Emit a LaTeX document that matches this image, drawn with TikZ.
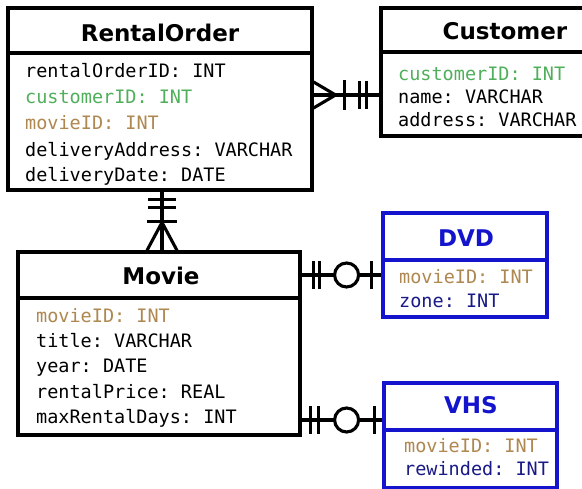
\documentclass[tikz,border=0pt]{standalone}
\usepackage{fontspec}
\setmainfont{DejaVu Sans}
\setmonofont{DejaVu Sans Mono}
\usetikzlibrary{calc}
\definecolor{keygreen}{RGB}{80,175,90}
\definecolor{keytan}{RGB}{175,135,80}
\definecolor{subblue}{RGB}{20,20,205}
\definecolor{subtext}{RGB}{25,25,135}
\tikzset{
  entity/.style={draw=black, line width=3.2pt, fill=white, inner sep=0pt},
  subentity/.style={draw=subblue, line width=3.2pt, fill=white, inner sep=0pt},
  divider/.style={line width=3.2pt},
  subdivider/.style={draw=subblue, line width=3.2pt},
  enttitle/.style={anchor=base, inner sep=0pt, font=\fontsize{23}{26}\selectfont\bfseries},
  attr/.style={anchor=base west, inner sep=0pt, font=\fontsize{18.5}{22}\selectfont\ttfamily},
  conn/.style={line width=3.1pt, line cap=butt},
  ring/.style={line width=3.1pt, fill=white},
}
\begin{document}
\begin{tikzpicture}[x=1pt, y=-1pt]
\useasboundingbox (0,0) rectangle (582,489);
\clip (0,0) rectangle (582,489);

% ---- RentalOrder ----
\node[entity, minimum width=304pt, minimum height=182pt] (ro) at (160,99) {};
\draw[divider] (ro.west |- 0,53) -- (ro.east |- 0,53);
\node[enttitle] (roT) at (160,42) {RentalOrder};
\node[attr] (ro1) at (25,78) {rentalOrderID: INT};
\node[attr, text=keygreen] (ro2) at (25,104) {customerID: INT};
\node[attr, text=keytan] (ro3) at (25,130) {movieID: INT};
\node[attr] (ro4) at (25,157) {deliveryAddress: VARCHAR};
\node[attr] (ro5) at (25,182) {deliveryDate: DATE};

% ---- Customer ----
\node[entity, minimum width=259pt, minimum height=128pt] (cu) at (510.5,72) {};
\draw[divider] (cu.west |- 0,52) -- (cu.east |- 0,52);
\node[enttitle] (cuT) at (505,40) {Customer};
\node[attr, text=keygreen] (cu1) at (398,81) {customerID: INT};
\node[attr] (cu2) at (398,104) {name: VARCHAR};
\node[attr] (cu3) at (398,127) {address: VARCHAR};

% ---- Movie ----
\node[entity, minimum width=282pt, minimum height=183pt] (mv) at (159,343.5) {};
\draw[divider] (mv.west |- 0,298) -- (mv.east |- 0,298);
\node[enttitle] (mvT) at (161,285) {Movie};
\node[attr, text=keytan] (mv1) at (36,323) {movieID: INT};
\node[attr] (mv2) at (36,348) {title: VARCHAR};
\node[attr] (mv3) at (36,373) {year: DATE};
\node[attr] (mv4) at (36,399) {rentalPrice: REAL};
\node[attr] (mv5) at (36,424) {maxRentalDays: INT};

% ---- DVD ----
\node[subentity, minimum width=164pt, minimum height=104pt] (dvd) at (465,265) {};
\draw[subdivider] (dvd.west |- 0,260) -- (dvd.east |- 0,260);
\node[enttitle, text=subblue] (dvdT) at (466,247) {DVD};
\node[attr, text=keytan] (dvd1) at (399,284) {movieID: INT};
\node[attr, text=subtext] (dvd2) at (399,308) {zone: INT};

% ---- VHS ----
\node[subentity, minimum width=173pt, minimum height=105pt] (vhs) at (470.5,435.5) {};
\draw[subdivider] (vhs.west |- 0,430) -- (vhs.east |- 0,430);
\node[enttitle, text=subblue] (vhsT) at (471,414) {VHS};
\node[attr, text=keytan] (vhs1) at (404,453) {movieID: INT};
\node[attr, text=subtext] (vhs2) at (404,476) {rewinded: INT};

% ---- RentalOrder -- Customer: many / exactly one ----
\coordinate (roR) at (ro.east |- 0,95);
\coordinate (cuL) at (cu.west |- 0,95);
\draw[conn] (roR) -- (cuL);
\draw[conn] ($(roR)+(0,-13)$) -- ($(roR)+(22,0)$) -- ($(roR)+(0,13)$);
\draw[conn] ($(roR)+(31,-15)$) -- ($(roR)+(31,15)$);
\draw[conn] ($(cuL)+(-20,-14)$) -- ($(cuL)+(-20,14)$);
\draw[conn] ($(cuL)+(-13,-14)$) -- ($(cuL)+(-13,14)$);

% ---- RentalOrder -- Movie: exactly one / one or many ----
\coordinate (roB) at (162,0 |- ro.south);
\coordinate (mvT2) at (162,0 |- mv.north);
\draw[conn] (roB) -- (mvT2);
\draw[conn] ($(roB)+(-14,8)$) -- ($(roB)+(14,8)$);
\draw[conn] ($(roB)+(-14,16)$) -- ($(roB)+(14,16)$);
\draw[conn] ($(mvT2)+(-15,-29)$) -- ($(mvT2)+(15,-29)$);
\draw[conn] ($(mvT2)+(-15,0)$) -- ($(mvT2)+(0,-28)$) -- ($(mvT2)+(15,0)$);

% ---- Movie -- DVD: exactly one / zero or one ----
\coordinate (mvD) at (mv.east |- 0,275);
\coordinate (dvdL) at (dvd.west |- 0,275);
\draw[conn] (mvD) -- (dvdL);
\draw[conn] ($(mvD)+(12,-14)$) -- ($(mvD)+(12,14)$);
\draw[conn] ($(mvD)+(18,-14)$) -- ($(mvD)+(18,14)$);
\draw[ring] ($(mvD)+(45,0)$) circle[radius=12pt];
\draw[conn] ($(dvdL)+(-10,-14)$) -- ($(dvdL)+(-10,14)$);

% ---- Movie -- VHS: exactly one / zero or one ----
\coordinate (mvV) at (mv.east |- 0,420);
\coordinate (vhsL) at (vhs.west |- 0,420);
\draw[conn] (mvV) -- (vhsL);
\draw[conn] ($(mvV)+(9,-14)$) -- ($(mvV)+(9,14)$);
\draw[conn] ($(mvV)+(17,-14)$) -- ($(mvV)+(17,14)$);
\draw[ring] ($(mvV)+(45,0)$) circle[radius=12pt];
\draw[conn] ($(vhsL)+(-8,-14)$) -- ($(vhsL)+(-8,14)$);
\end{tikzpicture}
\end{document}
